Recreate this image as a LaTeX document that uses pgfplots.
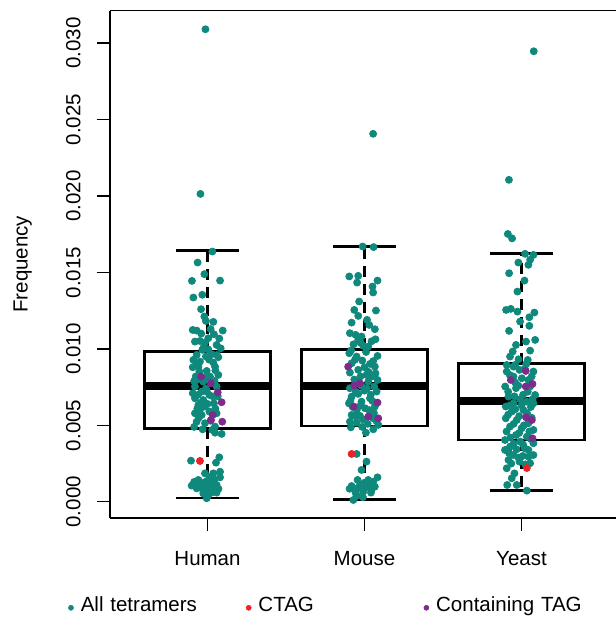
\documentclass[border=0pt]{standalone}
\usepackage{fontspec}
\setmainfont{Liberation Sans}
\usepackage{pgfplots}
\pgfplotsset{compat=1.18}
\usepgfplotslibrary{statistics}

\definecolor{tealpt}{RGB}{16,137,125}
\definecolor{redpt}{RGB}{238,34,36}
\definecolor{purplept}{RGB}{124,45,140}

% frequencies are written in units of 1e-3 (so 7.59 means 0.00759)
\begin{document}
\begin{tikzpicture}[font=\fontsize{20.5bp}{24bp}\selectfont]
\begin{axis}[
  name=ax,
  scale only axis,
  width=506bp, height=507.4bp,
  xmin=0.379, xmax=3.602,
  ymin=-1.06, ymax=32.13,
  clip=false,
  axis x line*=bottom, axis y line*=left,
  axis line style={line width=1.6bp, black},
  tick align=outside,
  major tick length=13bp,
  tick style={line width=1.4bp, black},
  xtick={1,2,3}, xticklabels={Human,Mouse,Yeast},
  ytick={0,5,10,15,20,25,30},
  yticklabels={0.000,0.005,0.010,0.015,0.020,0.025,0.030},
  xticklabel style={anchor=base, inner sep=0pt},
  xticklabel shift=34bp,
  yticklabel style={rotate=90, anchor=base, inner sep=0pt},
  yticklabel shift=16.5bp,
  ylabel={Frequency},
  every axis y label/.style={at={([xshift=-82.3bp]axis description cs:0,0.5)}, rotate=90, anchor=base, inner sep=0pt},
  legend columns=3,
  legend style={at={([xshift=-42bp,yshift=-86bp]axis description cs:0,0)}, anchor=north west,
    draw=none, fill=none, inner sep=0pt,
    nodes={inner sep=0pt, text depth=0pt, text height=0.72em, text width=160bp},
    /tikz/every odd column/.append style={column sep=7bp},
    /tikz/every even column/.append style={column sep=5.1bp}},
  boxplot/draw direction=y,
  boxplot/every median/.style={line width=8bp},
  boxplot/draw/lower whisker/.code={
    \draw[dash pattern=on 11bp off 7bp] (boxplot cs:\pgfplotsboxplotvalue{lower quartile}) -- (boxplot cs:\pgfplotsboxplotvalue{lower whisker});
    \draw (boxplot whisker cs:\pgfplotsboxplotvalue{lower whisker},0) -- (boxplot whisker cs:\pgfplotsboxplotvalue{lower whisker},1);
  },
  boxplot/draw/upper whisker/.code={
    \draw[dash pattern=on 11bp off 7bp] (boxplot cs:\pgfplotsboxplotvalue{upper quartile}) -- (boxplot cs:\pgfplotsboxplotvalue{upper whisker});
    \draw (boxplot whisker cs:\pgfplotsboxplotvalue{upper whisker},0) -- (boxplot whisker cs:\pgfplotsboxplotvalue{upper whisker},1);
  },
]

% boxes
\addplot[forget plot, black, line width=2.6bp, boxplot prepared={draw position=1,
  lower whisker=0.26, lower quartile=4.81, median=7.59,
  upper quartile=9.82, upper whisker=16.43, box extend=0.8, whisker extend=0.4}] coordinates {};
\addplot[forget plot, black, line width=2.6bp, boxplot prepared={draw position=2,
  lower whisker=0.16, lower quartile=4.97, median=7.57,
  upper quartile=9.98, upper whisker=16.69, box extend=0.8, whisker extend=0.4}] coordinates {};
\addplot[forget plot, black, line width=2.6bp, boxplot prepared={draw position=3,
  lower whisker=0.75, lower quartile=4.04, median=6.59,
  upper quartile=9.03, upper whisker=16.23, box extend=0.8, whisker extend=0.4}] coordinates {};

% all tetramers (jittered)
\addplot[tealpt, only marks, mark=*, mark size=3.5bp, mark options={solid, fill=tealpt, draw=tealpt, line width=0.8bp},
  legend image code/.code={\fill[tealpt] (0bp,0bp) circle (2.6bp);}] coordinates {
% Human
(0.987,30.91) (0.955,20.14)
(1.031,16.37) (0.937,15.65) (0.980,14.89) (0.901,14.45) (1.080,14.47) (0.967,13.54)
(0.910,13.36) (0.959,12.60) (0.980,12.12) (0.990,11.83) (1.037,11.77) (0.906,11.24)
(0.931,11.20) (1.097,11.20) (1.041,10.96) (1.075,10.68) (0.920,10.48) (0.952,10.52)
(0.984,10.42) (1.058,10.26) (1.084,10.04) (0.967,9.94) (0.931,9.61) (1.027,9.65)
(0.990,9.50) (1.069,9.46) (0.910,9.28) (0.952,9.17) (1.037,9.11) (0.906,8.80)
(0.942,8.84) (1.048,8.84) (0.995,8.56) (1.069,8.30) (0.931,7.97) (0.973,7.86)
(0.920,7.54) (1.058,7.54) (0.963,7.21) (1.012,6.99) (0.920,6.77) (0.973,6.66)
(1.041,6.44) (0.942,6.34) (0.984,6.23) (0.920,5.79) (0.963,5.68) (1.058,5.79)
(0.931,5.24) (0.984,5.14) (1.048,4.92) (0.969,4.74) (1.048,4.52) (1.090,4.44)
(1.075,2.91) (0.895,2.69) (1.054,2.56) (1.080,1.97) (0.984,1.86) (1.037,1.86)
(1.012,1.60) (1.080,1.60) (0.899,1.06) (0.952,1.21) (0.973,1.10) (1.016,0.99)
(1.058,1.10) (0.931,0.88) (0.995,0.82) (1.037,0.77) (0.973,0.55) (1.058,0.60)
(0.995,0.23) (0.948,8.52) (1.016,8.19) (0.995,7.21) (1.037,6.88) (0.952,6.01)
(1.012,5.90) (0.906,7.10) (0.963,0.88) (1.027,1.32) (0.942,1.43) (1.005,9.97)
(0.925,8.20) (1.060,9.60) (0.960,6.50) (1.020,5.30) (1.000,0.65)
(0.975,10.10) (1.010,9.30) (0.935,9.00) (1.050,8.60) (0.985,8.10) (0.915,7.90)
(1.045,7.90) (0.990,7.40) (0.940,7.00) (1.065,6.90) (0.935,6.10) (1.000,6.40)
(1.050,6.10) (0.945,5.50) (1.030,4.70) (0.915,4.90) (1.005,10.70) (0.960,11.00)
(1.020,11.30) (0.945,1.00) (0.985,1.30) (1.045,1.45) (1.005,0.45) (1.070,0.85)
(0.915,1.30) (1.025,0.60)
% Mouse
(2.055,24.07)
(1.988,16.70) (2.058,16.66) (1.903,14.74) (1.960,14.78) (1.953,14.34) (2.083,14.47)
(2.051,14.08) (2.055,13.69) (1.966,13.10) (2.073,12.51) (1.935,12.55) (1.960,12.16)
(2.016,11.90) (2.030,11.57) (1.918,11.72) (2.066,11.29) (1.907,11.03) (1.943,10.92)
(1.981,10.81) (2.070,10.63) (1.960,10.59) (2.024,10.15) (1.992,10.20) (1.903,9.72)
(1.950,9.50) (2.083,9.54) (1.986,9.24) (2.035,9.02) (1.918,9.06) (2.066,8.84)
(1.960,8.63) (1.907,8.45) (2.013,8.30) (2.045,8.19) (2.083,7.97) (1.960,7.86)
(2.024,7.86) (1.907,7.43) (2.062,7.54) (1.999,7.27) (2.077,7.21) (1.960,7.06)
(1.918,6.88) (2.035,6.77) (1.981,6.55) (1.901,6.44) (2.066,6.23) (1.951,6.01)
(2.003,6.12) (1.918,5.68) (1.971,5.62) (2.056,5.46) (1.907,5.24) (1.950,5.18)
(2.088,5.03) (2.056,4.74) (1.913,4.87) (2.009,4.52) (1.950,3.13) (2.013,2.63)
(1.981,2.08) (2.083,1.60) (1.956,1.43) (2.024,1.43) (1.918,1.03) (1.971,1.10)
(2.013,0.95) (2.066,0.99) (1.939,0.73) (1.992,0.66) (2.041,0.60) (1.950,0.38)
(1.929,0.12) (2.000,8.80) (1.935,8.00) (2.040,7.00) (1.980,7.60) (2.010,9.80)
(1.930,10.30) (2.060,5.80) (1.990,5.40) (1.925,6.20) (2.030,1.18)
(1.975,10.40) (2.045,10.50) (1.915,9.90) (2.055,9.20) (1.940,9.30) (2.025,8.50)
(1.975,8.20) (2.070,8.40) (1.945,7.20) (2.015,7.40) (1.910,6.60) (2.050,6.60)
(1.975,6.30) (2.030,6.00) (1.940,5.60) (2.020,5.10) (1.985,4.90) (2.075,5.30)
(1.960,0.90) (2.000,1.25) (1.945,0.55) (2.045,0.80) (1.905,0.85) (1.990,0.30)
(2.055,1.30)
% Yeast
(3.078,29.47) (2.920,21.06) (2.913,17.52) (2.940,17.23)
(3.023,16.22) (3.076,16.15) (3.055,15.83) (2.980,15.65) (3.044,15.50) (2.921,14.95)
(3.019,14.47) (2.974,13.75) (2.902,12.55) (2.932,12.62) (2.974,12.44) (3.082,12.38)
(3.050,12.07) (2.991,11.79) (3.050,11.51) (2.921,11.18) (3.087,10.59) (2.965,10.26)
(3.029,10.48) (2.944,9.83) (3.055,9.89) (2.927,9.50) (2.981,9.32) (3.040,9.28)
(2.906,8.95) (2.949,8.84) (2.987,8.63) (3.076,8.52) (2.906,8.52) (2.949,8.19)
(3.002,8.08) (3.044,7.97) (2.896,7.54) (2.965,7.43) (3.055,7.54) (3.087,6.99)
(2.917,6.88) (2.991,6.71) (3.034,6.55) (2.949,6.44) (2.900,6.23) (3.076,6.44)
(2.938,5.90) (3.012,6.01) (2.900,5.46) (2.970,5.35) (3.044,5.14) (2.927,4.92)
(3.001,4.81) (3.076,4.70) (2.965,4.37) (3.034,4.26) (2.895,4.04) (2.991,3.94)
(3.076,3.83) (2.927,3.61) (2.969,3.43) (3.044,3.39) (2.895,3.39) (2.949,3.06)
(3.008,3.00) (3.076,3.06) (2.917,2.74) (2.987,2.63) (3.055,2.52) (2.906,2.19)
(2.955,1.86) (2.938,1.54) (2.909,1.10) (2.970,1.10) (3.034,0.73)
(3.010,7.00) (2.960,7.80) (3.060,6.20) (2.930,4.20) (3.020,3.50) (3.050,4.60)
(2.985,5.60) (3.030,9.00)
(2.960,8.95) (3.020,8.70) (2.925,8.30) (3.065,8.20) (2.980,7.60) (2.915,7.20)
(3.040,7.20) (2.955,6.90) (3.070,6.70) (2.925,6.30) (3.000,6.30) (2.960,6.05)
(3.035,5.80) (2.915,5.70) (3.065,5.50) (2.950,5.10) (3.015,5.00) (2.905,4.60)
(2.985,4.50) (3.060,4.10) (2.950,3.80) (3.010,3.75) (2.920,3.20) (3.045,2.95)
(2.980,2.90) (2.935,2.50) (3.025,2.45)
};
\addlegendentry{All tetramers}

% CTAG
\addplot[redpt, only marks, mark=*, mark size=3.5bp, mark options={solid, fill=redpt, draw=redpt, line width=0.8bp},
  legend image code/.code={\fill[redpt] (0bp,0bp) circle (2.6bp);}] coordinates {
(0.952,2.67) (1.918,3.13) (3.034,2.21)
};
\addlegendentry{CTAG}

% containing TAG
\addplot[purplept, only marks, mark=*, mark size=3.5bp, mark options={solid, fill=purplept, draw=purplept, line width=0.8bp},
  legend image code/.code={\fill[purplept] (0bp,0bp) circle (2.6bp);}] coordinates {
(0.959,8.19) (1.020,7.75) (1.065,7.16) (1.090,6.51) (1.033,5.68) (1.022,5.35) (1.094,5.24)
(1.896,8.84) (1.935,7.60) (1.971,7.75) (1.932,6.23) (2.083,6.49) (2.024,5.57) (2.088,5.46)
(3.027,8.56) (2.932,7.97) (3.027,7.54) (3.070,7.71) (3.029,5.53) (3.066,5.35) (3.070,4.15)
};
\addlegendentry{Containing TAG}

% top frame line (right side is cut off in the original)
\draw[line width=1.6bp, black] (rel axis cs:0,1) -- (rel axis cs:1,1);
\end{axis}
\pgfresetboundingbox
\path[use as bounding box] ([xshift=-110bp,yshift=-99bp]ax.south west) rectangle ([yshift=10.6bp]ax.north east);
\end{tikzpicture}
\end{document}
